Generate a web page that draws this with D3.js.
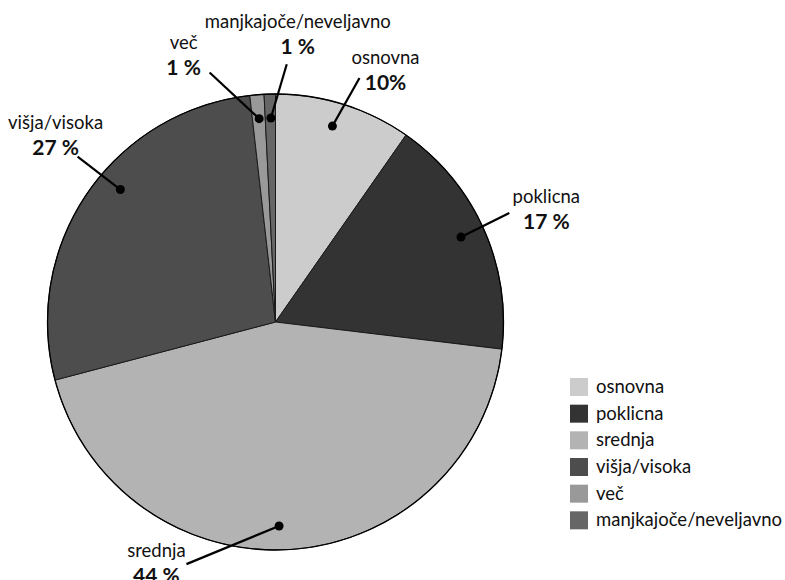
<!DOCTYPE html>
<html>
<head>
<meta charset="utf-8">
<script src="https://cdn.jsdelivr.net/npm/d3@7"></script>
<style>
  body { margin: 0; background: #fff; }
  text { font-family: Lato, "Open Sans", sans-serif; fill: #111; }
  .name { font-size: 18.5px; }
  .pct { font-size: 21px; font-weight: bold; }
  .legend text { font-size: 18.5px; }
</style>
</head>
<body>
<svg width="785" height="580"></svg>
<script>
// data
var categories = ["osnovna", "poklicna", "srednja", "višja/visoka", "več", "manjkajoče/neveljavno"];
var values = [9.7, 17.2, 44.0, 27.3, 1.0, 0.8];
var pctLabels = ["10%", "17 %", "44 %", "27 %", "1 %", "1 %"];
var colors = ["#cccccc", "#333333", "#b3b3b3", "#4d4d4d", "#999999", "#666666"];

// label layout (degrees clockwise from top; text offset from leader end)
var lineAngle = [19.0, 65.0, 200.2, 309.9, 345.2, 2.5];
var dotAngle  = [16.2, 65.4, 179.0, 310.5, 355.4, 358.7];
var textDx = [26, 37, -30, -22, -26, 11];
var textDy = [-14, -10, -7, -28, -24, -36];

var svg = d3.select("svg");
var cx = 275.5, cy = 322, radius = 228;
var rad = Math.PI / 180;

var data = categories.map(function(c, i) { return {name: c, value: values[i], i: i}; });

var pie = d3.pie()
  .value(function(d) { return d.value; })
  .sort(null);

var arc = d3.arc()
  .innerRadius(0)
  .outerRadius(radius);

var g = svg.append("g")
  .attr("transform", "translate(" + cx + "," + cy + ")");

g.selectAll("path.slice")
  .data(pie(data))
  .enter().append("path")
  .attr("class", "slice")
  .attr("d", arc)
  .attr("fill", function(d) { return colors[d.data.i]; })
  .attr("stroke", "#1a1a1a")
  .attr("stroke-width", 1);

g.append("circle")
  .attr("r", radius)
  .attr("fill", "none")
  .attr("stroke", "#000")
  .attr("stroke-width", 1.3);

// leader lines + dots
var labels = g.selectAll("g.lbl")
  .data(data)
  .enter().append("g")
  .attr("class", "lbl");

labels.append("line")
  .attr("x1", function(d) { return d3.pointRadial(dotAngle[d.i] * rad, 204)[0]; })
  .attr("y1", function(d) { return d3.pointRadial(dotAngle[d.i] * rad, 204)[1]; })
  .attr("x2", function(d) { return d3.pointRadial(lineAngle[d.i] * rad, 258)[0]; })
  .attr("y2", function(d) { return d3.pointRadial(lineAngle[d.i] * rad, 258)[1]; })
  .attr("stroke", "#000")
  .attr("stroke-width", 2.2);

labels.append("circle")
  .attr("cx", function(d) { return d3.pointRadial(dotAngle[d.i] * rad, 204)[0]; })
  .attr("cy", function(d) { return d3.pointRadial(dotAngle[d.i] * rad, 204)[1]; })
  .attr("r", 4.5)
  .attr("fill", "#000");

labels.append("text")
  .attr("class", "name")
  .attr("text-anchor", "middle")
  .attr("x", function(d) { return d3.pointRadial(lineAngle[d.i] * rad, 258)[0] + textDx[d.i]; })
  .attr("y", function(d) { return d3.pointRadial(lineAngle[d.i] * rad, 258)[1] + textDy[d.i]; })
  .text(function(d) { return d.name; });

labels.append("text")
  .attr("class", "pct")
  .attr("text-anchor", "middle")
  .attr("x", function(d) { return d3.pointRadial(lineAngle[d.i] * rad, 258)[0] + textDx[d.i]; })
  .attr("y", function(d) { return d3.pointRadial(lineAngle[d.i] * rad, 258)[1] + textDy[d.i] + 26; })
  .text(function(d) { return pctLabels[d.i]; });

// legend
var legendY = d3.scaleBand()
  .domain(categories)
  .range([375, 535]);

var legend = svg.append("g")
  .attr("class", "legend")
  .selectAll("g")
  .data(categories)
  .enter().append("g")
  .attr("transform", function(d) { return "translate(570," + legendY(d) + ")"; });

legend.append("rect")
  .attr("y", 3)
  .attr("width", 18)
  .attr("height", 18)
  .attr("fill", function(d, i) { return colors[i]; });

legend.append("text")
  .attr("x", 26)
  .attr("y", 18)
  .text(function(d) { return d; });
</script>
</body>
</html>
